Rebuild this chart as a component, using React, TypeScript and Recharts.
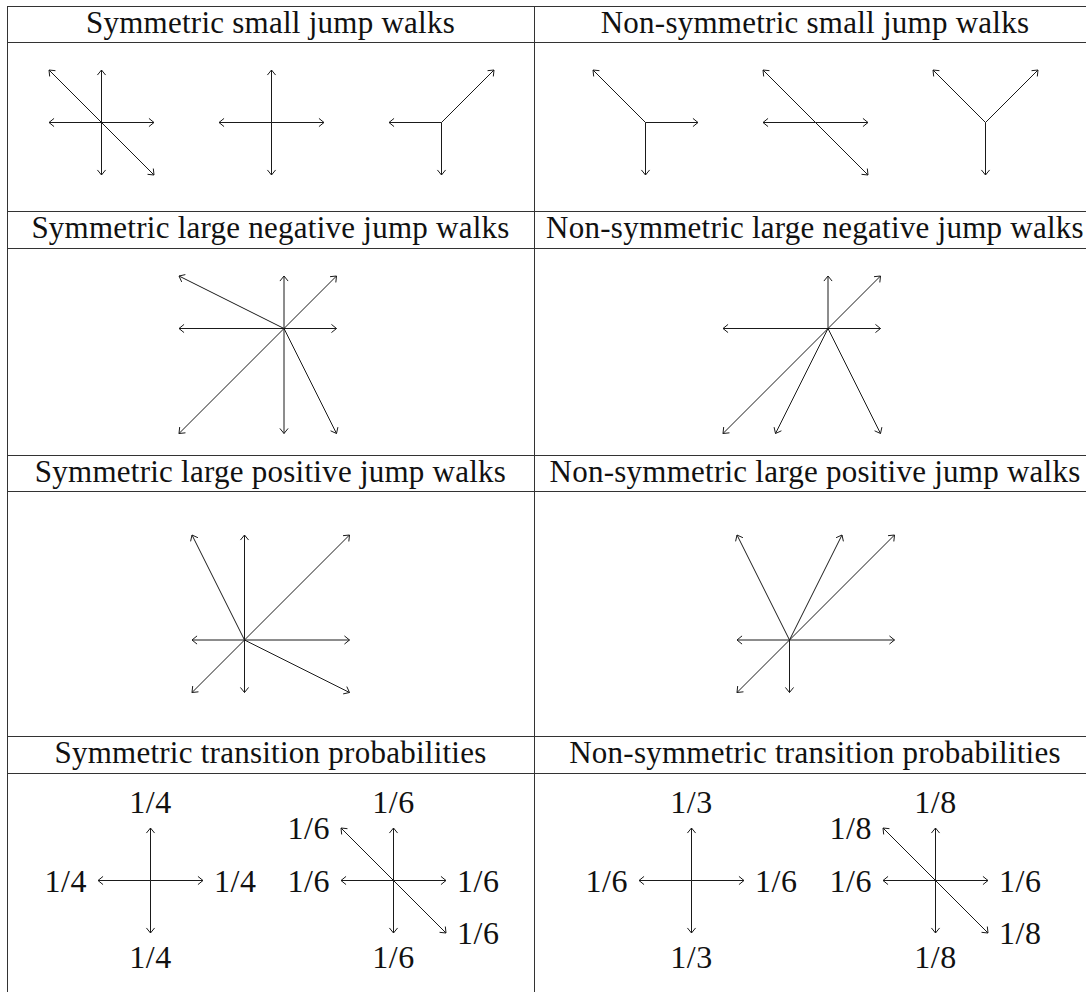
import React from 'react';
import { ScatterChart, Scatter, XAxis, YAxis, ReferenceLine } from 'recharts';

type Step = [number, number];

// ---- step sets (dx, dy) ----
const symSmallA: Step[] = [[-1, 1], [0, 1], [-1, 0], [1, 0], [0, -1], [1, -1]];
const symSmallB: Step[] = [[0, 1], [-1, 0], [1, 0], [0, -1]];
const symSmallC: Step[] = [[1, 1], [-1, 0], [0, -1]];
const nonSymSmallA: Step[] = [[-1, 1], [1, 0], [0, -1]];
const nonSymSmallB: Step[] = [[-1, 1], [-1, 0], [1, 0], [1, -1]];
const nonSymSmallC: Step[] = [[-1, 1], [1, 1], [0, -1]];
const symNegative: Step[] = [[-2, 1], [0, 1], [1, 1], [-2, 0], [1, 0], [-2, -2], [0, -2], [1, -2]];
const nonSymNegative: Step[] = [[0, 1], [1, 1], [-2, 0], [1, 0], [-2, -2], [-1, -2], [1, -2]];
const symPositive: Step[] = [[-1, 2], [0, 2], [2, 2], [-1, 0], [2, 0], [-1, -1], [0, -1], [2, -1]];
const nonSymPositive: Step[] = [[-1, 2], [1, 2], [2, 2], [-1, 0], [2, 0], [-1, -1], [0, -1]];
const symProbA: Step[] = [[0, 1], [-1, 0], [1, 0], [0, -1]];
const symProbALabels: string[] = ['1/4', '1/4', '1/4', '1/4'];
const symProbB: Step[] = [[0, 1], [-1, 1], [-1, 0], [1, 0], [1, -1], [0, -1]];
const symProbBLabels: string[] = ['1/6', '1/6', '1/6', '1/6', '1/6', '1/6'];
const nonSymProbA: Step[] = [[0, 1], [-1, 0], [1, 0], [0, -1]];
const nonSymProbALabels: string[] = ['1/3', '1/6', '1/6', '1/3'];
const nonSymProbB: Step[] = [[0, 1], [-1, 1], [-1, 0], [1, 0], [1, -1], [0, -1]];
const nonSymProbBLabels: string[] = ['1/8', '1/8', '1/6', '1/6', '1/8', '1/8'];

// ---- header texts ----
const leftHeaders: string[] = [
  'Symmetric small jump walks',
  'Symmetric large negative jump walks',
  'Symmetric large positive jump walks',
  'Symmetric transition probabilities',
];
const rightHeaders: string[] = [
  'Non-symmetric small jump walks',
  'Non-symmetric large negative jump walks',
  'Non-symmetric large positive jump walks',
  'Non-symmetric transition probabilities',
];

// ---- layout (pixels) ----
const UNIT = 52.5;
const COL_X = [7, 534, 1096];
const ROW_LINES = [6, 42, 211, 248, 455, 491, 736, 773];
const HEADER_FONT = 31;
const LABEL_FONT = 32;
const FONT = '"Liberation Serif", "Times New Roman", serif';
const INK = '#1a1a1a';

type DiagramSpec = { steps: Step[]; labels?: string[]; cx: number; cy: number };
const diagrams: DiagramSpec[] = [
  { steps: symSmallA, cx: 101, cy: 122 },
  { steps: symSmallB, cx: 271, cy: 122 },
  { steps: symSmallC, cx: 441, cy: 122 },
  { steps: nonSymSmallA, cx: 645, cy: 122 },
  { steps: nonSymSmallB, cx: 815, cy: 122 },
  { steps: nonSymSmallC, cx: 985, cy: 122 },
  { steps: symNegative, cx: 284, cy: 328 },
  { steps: nonSymNegative, cx: 828, cy: 328 },
  { steps: symPositive, cx: 244, cy: 640 },
  { steps: nonSymPositive, cx: 789, cy: 640 },
  { steps: symProbA, labels: symProbALabels, cx: 150, cy: 880 },
  { steps: symProbB, labels: symProbBLabels, cx: 393, cy: 880 },
  { steps: nonSymProbA, labels: nonSymProbALabels, cx: 691, cy: 880 },
  { steps: nonSymProbB, labels: nonSymProbBLabels, cx: 935, cy: 880 },
];

function Arrow(props: { x1: number; y1: number; x2: number; y2: number; label?: string }) {
  const { x1, y1, x2, y2, label } = props;
  const dx = x2 - x1;
  const dy = y2 - y1;
  const ang = Math.atan2(dy, dx);
  const L = 6.5;
  const A = 0.68;
  const ax = x2 - L * Math.cos(ang - A);
  const ay = y2 - L * Math.sin(ang - A);
  const bx = x2 - L * Math.cos(ang + A);
  const by = y2 - L * Math.sin(ang + A);
  let text: React.ReactNode = null;
  if (label) {
    const len = Math.hypot(dx, dy) || 1;
    const ux = dx / len;
    const uy = dy / len;
    let tx = x2;
    let ty = y2;
    let anchor: 'start' | 'middle' | 'end' = 'middle';
    if (Math.abs(ux) < 0.01) {
      anchor = 'middle';
      ty = uy < 0 ? y2 - 15 : y2 + 35;
    } else {
      anchor = ux > 0 ? 'start' : 'end';
      tx = x2 + (ux > 0 ? 11 : -11);
      ty = y2 + 11;
    }
    text = (
      <text x={tx} y={ty} textAnchor={anchor} fontFamily={FONT} fontSize={LABEL_FONT} fill="#111" letterSpacing={0.5}>
        {label}
      </text>
    );
  }
  return (
    <g>
      <line x1={x1} y1={y1} x2={x2} y2={y2} stroke={INK} strokeWidth={1} />
      <polyline points={`${ax},${ay} ${x2},${y2} ${bx},${by}`} fill="none" stroke={INK} strokeWidth={1} />
      {text}
    </g>
  );
}

function Diagram({ steps, labels, cx, cy }: DiagramSpec) {
  const xs = steps.map((s) => s[0]).concat([0]);
  const ys = steps.map((s) => s[1]).concat([0]);
  const xmin = Math.min(...xs);
  const xmax = Math.max(...xs);
  const ymin = Math.min(...ys);
  const ymax = Math.max(...ys);
  const pad = 60;
  const w = (xmax - xmin) * UNIT + 2 * pad;
  const h = (ymax - ymin) * UNIT + 2 * pad;
  const pts = steps.map(([x, y]) => ({ x, y }));
  return (
    <div style={{ position: 'absolute', left: cx + xmin * UNIT - pad, top: cy - ymax * UNIT - pad }}>
      <ScatterChart width={w} height={h} margin={{ top: pad, right: pad, bottom: pad, left: pad }}>
        <XAxis type="number" dataKey="x" domain={[xmin, xmax]} hide />
        <YAxis type="number" dataKey="y" domain={[ymin, ymax]} hide />
        <Scatter data={pts} isAnimationActive={false} shape={() => <g />} />
        {steps.map(([x, y], i) => (
          <ReferenceLine
            key={i}
            segment={[{ x: 0, y: 0 }, { x, y }]}
            ifOverflow="visible"
            shape={(p: any) => <Arrow x1={p.x1} y1={p.y1} x2={p.x2} y2={p.y2} label={labels ? labels[i] : undefined} />}
          />
        ))}
      </ScatterChart>
    </div>
  );
}

export default function App() {
  const headerRows = [0, 2, 4, 6];
  return (
    <div
      style={{
        position: 'absolute',
        left: 0,
        top: 0,
        width: 1086,
        height: 992,
        overflow: 'hidden',
        background: '#fff',
      }}
    >
      {ROW_LINES.map((y, i) => (
        <div
          key={'h' + i}
          style={{ position: 'absolute', left: COL_X[0], top: y, width: COL_X[2] - COL_X[0], height: 1, background: '#333' }}
        />
      ))}
      {COL_X.slice(0, 2).map((x, i) => (
        <div
          key={'v' + i}
          style={{ position: 'absolute', left: x, top: ROW_LINES[0], width: 1, height: 992 - ROW_LINES[0], background: '#333' }}
        />
      ))}
      {headerRows.map((r, i) => (
        <React.Fragment key={'t' + i}>
          {[leftHeaders[i], rightHeaders[i]].map((t, c) => (
            <div
              key={c}
              style={{
                position: 'absolute',
                left: COL_X[c],
                width: COL_X[c + 1] - COL_X[c],
                top: ROW_LINES[r] + 1,
                lineHeight: HEADER_FONT + 'px',
                fontSize: HEADER_FONT,
                fontFamily: FONT,
                letterSpacing: 0.25,
                textAlign: 'center',
                color: '#111',
                whiteSpace: 'nowrap',
              }}
            >
              {t}
            </div>
          ))}
        </React.Fragment>
      ))}
      {diagrams.map((d, i) => (
        <Diagram key={i} {...d} />
      ))}
    </div>
  );
}
